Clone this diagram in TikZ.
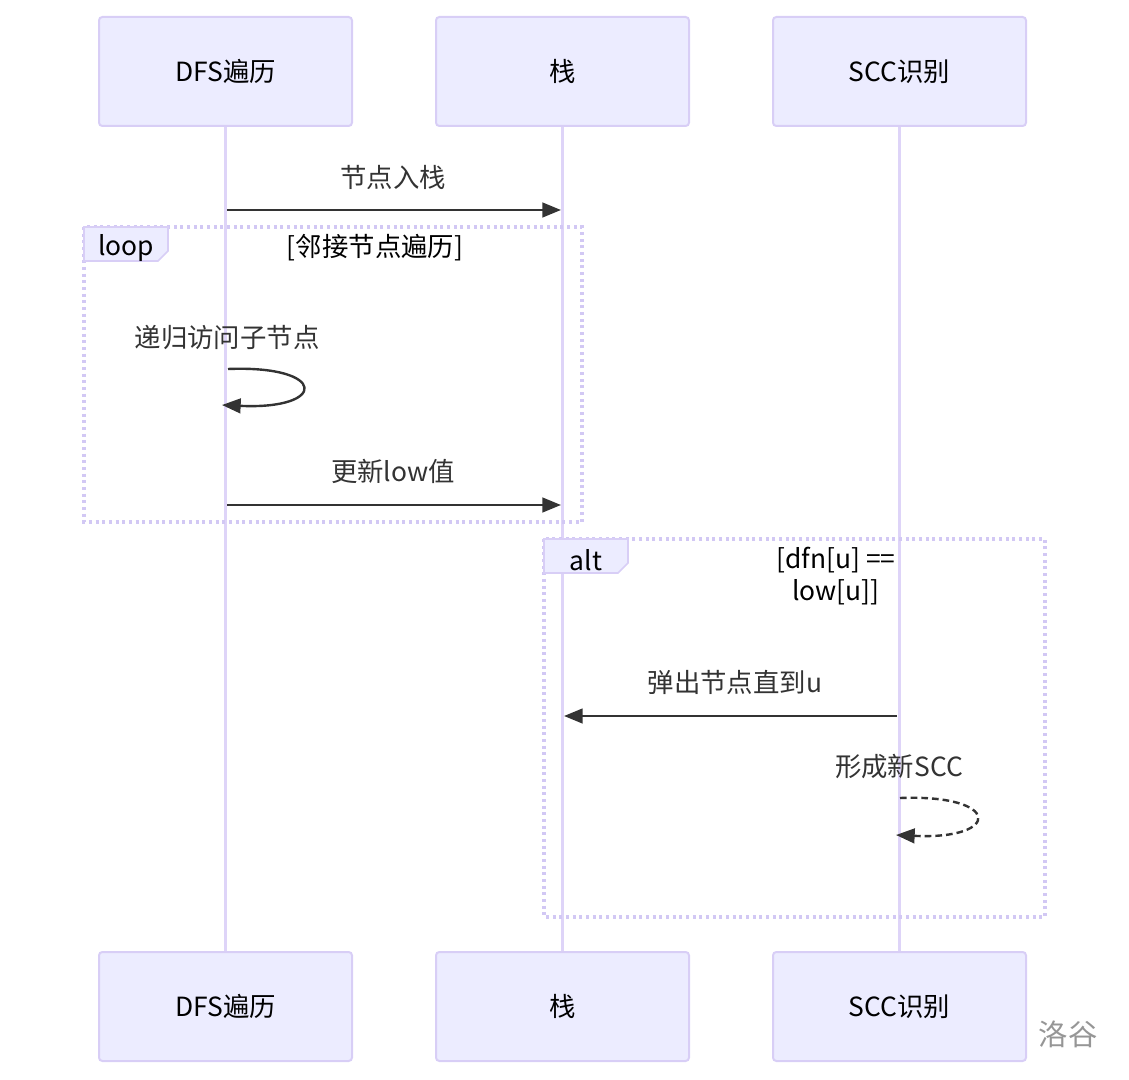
\documentclass[tikz,border=0pt]{standalone}
\usepackage{fontspec}
\setmainfont{Noto Sans CJK SC}
\usepackage{tikz}
\usetikzlibrary{arrows.meta,positioning}
\definecolor{actorfill}{HTML}{ECECFF}
\definecolor{actorline}{RGB}{216,206,246}
\definecolor{lifepurple}{RGB}{222,212,248}
\definecolor{framedot}{RGB}{210,200,244}
\definecolor{msgdark}{HTML}{333333}
\definecolor{markgray}{RGB}{150,150,150}

\begin{document}
\begin{tikzpicture}[x=0.75pt,y=-0.75pt,
    actor/.style={draw=actorline,fill=actorfill,line width=1.5pt,rounded corners=2.5pt,
        minimum width=189.75pt,minimum height=81.75pt,font=\fontsize{19.8}{24}\selectfont,text=black},
    life/.style={draw=lifepurple,line width=2.4pt},
    msg/.style={draw=msgdark,line width=1.8pt,-{Triangle[length=14pt,width=11pt]}},
    msgtext/.style={text=msgdark,font=\fontsize{19.8}{24}\selectfont},
    frame/.style={draw=framedot,line width=2.3pt,dash pattern=on 2.3pt off 2.7pt},
    tabbox/.style={draw=actorline,fill=actorfill,line width=1.2pt},
    framelabel/.style={text=black,font=\fontsize{19.8}{24}\selectfont,align=center}]
    \useasboundingbox (0,0) rectangle (1129,1080);

    % Actors, top and bottom
    \node[actor] (dfsTop) at (225.5,71.5) {DFS遍历};
    \node[actor] (stackTop) at (562.5,71.5) {栈};
    \node[actor] (sccTop) at (899.5,71.5) {SCC识别};
    \node[actor] (dfsBot) at (225.5,1006.5) {DFS遍历};
    \node[actor] (stackBot) at (562.5,1006.5) {栈};
    \node[actor] (sccBot) at (899.5,1006.5) {SCC识别};

    % Lifelines
    \draw[life] (dfsTop) -- (dfsBot);
    \draw[life] (stackTop) -- (stackBot);
    \draw[life] (sccTop) -- (sccBot);

    % loop frame
    \draw[frame] (84,227) rectangle (582,522);
    \draw[tabbox] (84,227) -- (168,227) -- (168,251) -- (158,261) -- (84,261) -- cycle;
    \node[framelabel] (loopTag) at (126,248) {loop};
    \node[framelabel] (loopCond) at (375,248) {[邻接节点遍历]};

    % alt frame
    \draw[frame] (544,539) rectangle (1045,917);
    \draw[tabbox] (544,539) -- (628,539) -- (628,563) -- (618,573) -- (544,573) -- cycle;
    \node[framelabel] (altTag) at (586,560) {alt};
    \node[framelabel] (altCond) at (836,576) {[dfn[u] ==\\low[u]]};

    % Messages
    \coordinate (m1a) at (227,210);
    \coordinate (m1b) at (561,210);
    \node[msgtext] (m1) at (393,177) {节点入栈};
    \draw[msg] (m1a) -- (m1b);

    \coordinate (s1a) at (228,369);
    \coordinate (s1b) at (222,405);
    \node[msgtext] (s1) at (227,337) {递归访问子节点};
    \draw[msg] (s1a) .. controls (328,365) and (328,410) .. (s1b);

    \coordinate (m2a) at (227,505);
    \coordinate (m2b) at (561,505);
    \node[msgtext] (m2) at (393,471) {更新low值};
    \draw[msg] (m2a) -- (m2b);

    \coordinate (m3a) at (897,716);
    \coordinate (m3b) at (564,716);
    \node[msgtext] (m3) at (735,682) {弹出节点直到u};
    \draw[msg] (m3a) -- (m3b);

    \coordinate (s2a) at (900,798);
    \coordinate (s2b) at (896,835);
    \node[msgtext] (s2) at (899,767) {形成新SCC};
    \draw[msg,dash pattern=on 5pt off 3pt] (s2a) .. controls (1002,794) and (1002,840) .. (s2b);

    % watermark
    \node[text=markgray,font=\fontsize{22}{26}\selectfont] (mark) at (1068,1034) {洛谷};
\end{tikzpicture}
\end{document}
